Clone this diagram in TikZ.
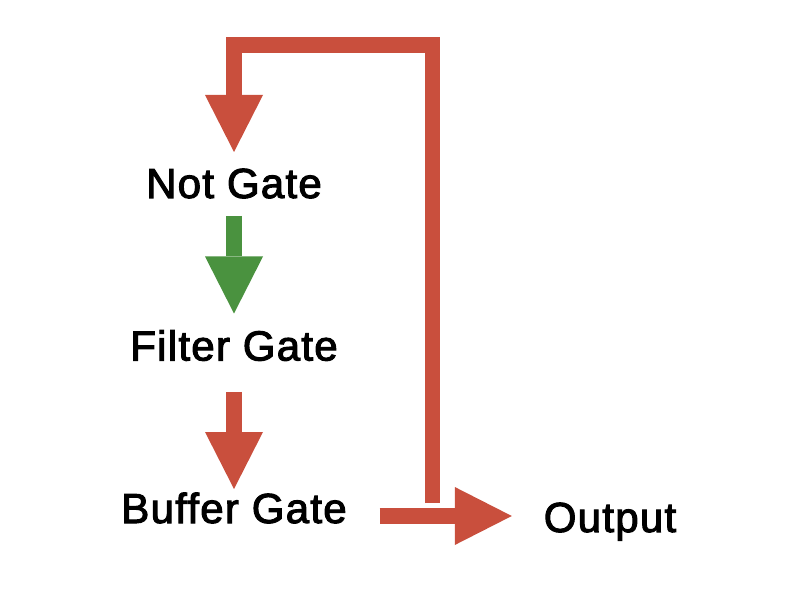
\documentclass[tikz,border=0pt]{standalone}
\usepackage{fontspec}
\usepackage{xcolor}
\usepackage{tikz}
\usetikzlibrary{arrows.meta,positioning,calc}
\newfontfamily\gatefont{Liberation Sans}[FakeBold=2.5, LetterSpace=3]
\definecolor{gatered}{HTML}{C94F3D}
\definecolor{gategreen}{HTML}{4A923F}

\begin{document}
\begin{tikzpicture}[
            x=1pt, y=1pt,
            node distance=162.5pt,
            gate/.style={inner sep=0pt, outer sep=0pt, text height=29pt, text depth=0pt, font=\gatefont\fontsize{42}{50}\selectfont},
            flow/.style={line width=15.5pt, -{Triangle[length=57pt, width=58pt, line width=0pt]}},
            redflow/.style={flow, draw=gatered},
            greenflow/.style={flow, draw=gategreen}
        ]
            \useasboundingbox (0,0) rectangle (800,600);
            \node[gate] (notgate) at (234,416.5) {Not Gate};
            \node[gate, below of=notgate] (filtergate) {Filter Gate};
            \node[gate, below of=filtergate] (buffergate) {Buffer Gate};
            \node[gate, right of=buffergate, xshift=213.5pt, yshift=-9pt] (output) {Output};
            \coordinate (loopstart) at (432.5,97);
            \coordinate (loopcorner) at (432.5,555);
            \coordinate (outlevel) at (0,84);

            \draw[redflow, shorten >=17pt] (loopstart) -- (loopcorner) -| (notgate.north);
            \draw[greenflow, shorten <=18pt, shorten >=18pt] (notgate) -- (filtergate);
            \draw[redflow, shorten <=31.5pt, shorten >=5pt] (filtergate) -- (buffergate);
            \draw[redflow, shorten <=33pt, shorten >=32pt] (buffergate.east |- outlevel) -- (output.west |- outlevel);
        \end{tikzpicture}
\end{document}
